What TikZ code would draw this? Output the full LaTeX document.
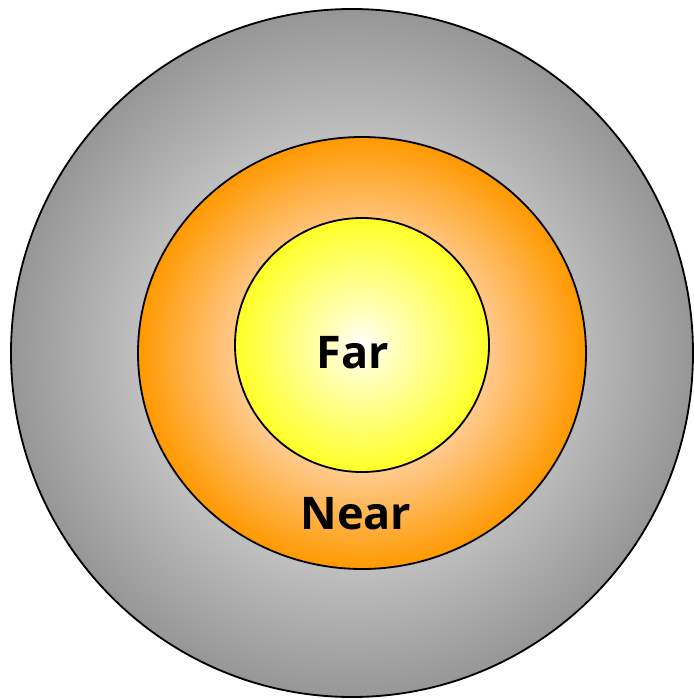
\documentclass[tikz,border=0pt]{standalone}
\usepackage{fontspec}
\setsansfont{Open Sans}
\usepackage{tikz}
\usetikzlibrary{positioning}

% radial shadings: light centre, full colour on the rim
\pgfdeclareradialshading{grayglow}{\pgfpoint{0bp}{0bp}}{%
  color(0bp)=(white); color(8bp)=(white!88!black); color(25bp)=(black!41); color(50bp)=(black!41)}
\pgfdeclareradialshading{orangeglow}{\pgfpoint{0bp}{0bp}}{%
  color(0bp)=(white); color(12bp)=(orange!35!white); color(25bp)=(orange!80!yellow); color(50bp)=(orange!80!yellow)}
\pgfdeclareradialshading{yellowglow}{\pgfpoint{0bp}{0bp}}{%
  color(0bp)=(white); color(6bp)=(yellow!25!white); color(25bp)=(yellow!85!white); color(50bp)=(yellow!85!white)}

\begin{document}
\begin{tikzpicture}[
    x=0.025cm, y=-0.025cm,
    ring/.style={draw=black, line width=1.3pt},
    ringlabel/.style={font=\sffamily\bfseries\fontsize{32}{38}\selectfont, text=black, inner sep=0pt}
]
\useasboundingbox (0,0) rectangle (693,699);

% Rings, outer to inner
\draw[ring, shading=grayglow]   (352,353) ellipse (341 and 344);
\draw[ring, shading=orangeglow] (362,353) ellipse (224 and 216);
\draw[ring, shading=yellowglow] (362,345) circle (127);

% Labels
\node[ringlabel] (far)  at (353,353) {Far};
\node[ringlabel] (near) at (356,514) {Near};

\end{tikzpicture}
\end{document}
